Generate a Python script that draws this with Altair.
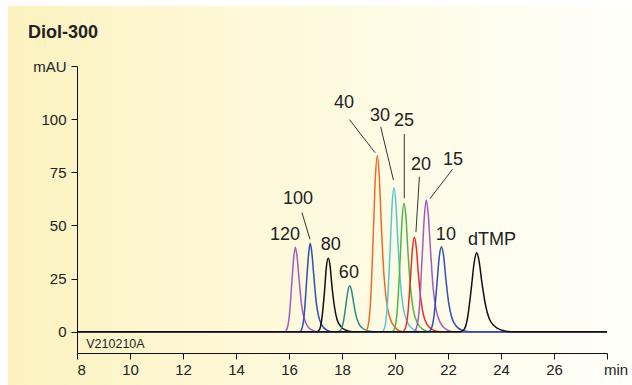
import altair as alt
import pandas as pd

# ---------------- data ----------------
series_names = ["120", "100", "80", "60", "40", "30", "25", "20", "15", "10", "dTMP"]
series_colors = ["#a35cc4", "#2b50b6", "#111111", "#2a8a85", "#f26a22",
                 "#55c6da", "#4cb848", "#ee2b2b", "#a35cc4", "#2b50b6", "#111111"]

t_120 = [15.84, 15.92, 16.01, 16.10, 16.18, 16.24, 16.30, 16.38, 16.47, 16.56, 16.69, 16.87, 17.10]
v_120 = [0, 1.2, 7.2, 21.9, 35.0, 39.8, 35.8, 24.7, 13.1, 6.8, 2.8, 0.8, 0]
t_100 = [16.40, 16.48, 16.57, 16.66, 16.74, 16.80, 16.86, 16.94, 17.03, 17.12, 17.25, 17.43, 17.66]
v_100 = [0, 1.2, 7.5, 22.9, 36.6, 41.6, 37.4, 25.8, 13.7, 7.1, 2.9, 0.8, 0]
t_80 = [17.05, 17.15, 17.24, 17.34, 17.41, 17.48, 17.55, 17.62, 17.72, 17.81, 17.96, 18.15, 18.38]
v_80 = [0, 1.0, 6.2, 19.0, 30.4, 34.6, 31.1, 21.5, 11.4, 5.9, 2.4, 0.7, 0]
t_60 = [17.84, 17.94, 18.04, 18.14, 18.22, 18.29, 18.36, 18.44, 18.54, 18.64, 18.79, 18.99, 19.24]
v_60 = [0, 0.6, 3.9, 11.9, 19.0, 21.6, 19.4, 13.4, 7.1, 3.7, 1.5, 0.4, 0]
t_40 = [18.88, 18.98, 19.08, 19.18, 19.26, 19.33, 19.40, 19.48, 19.58, 19.68, 19.83, 20.03, 20.28]
v_40 = [0, 2.5, 14.9, 45.5, 72.9, 82.8, 74.5, 51.3, 27.3, 14.1, 5.8, 1.7, 0]
t_30 = [19.51, 19.61, 19.71, 19.81, 19.89, 19.96, 20.03, 20.11, 20.21, 20.31, 20.46, 20.66, 20.91]
v_30 = [0, 2.0, 12.2, 37.2, 59.6, 67.7, 60.9, 42.0, 22.3, 11.5, 4.7, 1.4, 0]
t_25 = [19.89, 19.99, 20.09, 20.19, 20.27, 20.34, 20.41, 20.49, 20.59, 20.69, 20.84, 21.04, 21.29]
v_25 = [0, 1.8, 10.9, 33.2, 53.2, 60.4, 54.4, 37.4, 19.9, 10.3, 4.2, 1.2, 0]
t_20 = [20.28, 20.38, 20.48, 20.58, 20.66, 20.73, 20.80, 20.88, 20.98, 21.08, 21.23, 21.43, 21.68]
v_20 = [0, 1.3, 8.0, 24.5, 39.2, 44.5, 40.1, 27.6, 14.7, 7.6, 3.1, 0.9, 0]
t_15 = [20.71, 20.81, 20.92, 21.02, 21.11, 21.18, 21.25, 21.34, 21.44, 21.55, 21.71, 21.92, 22.18]
v_15 = [0, 1.9, 11.2, 34.1, 54.6, 62.0, 55.8, 38.4, 20.5, 10.5, 4.3, 1.2, 0]
t_10 = [21.25, 21.36, 21.47, 21.58, 21.67, 21.75, 21.83, 21.92, 22.03, 22.14, 22.30, 22.52, 22.80]
v_10 = [0, 1.2, 7.2, 22.0, 35.2, 40.0, 36.0, 24.8, 13.2, 6.8, 2.8, 0.8, 0]
t_dtmp = [22.47, 22.61, 22.74, 22.88, 22.99, 23.08, 23.17, 23.28, 23.42, 23.55, 23.76, 24.03, 24.36]
v_dtmp = [0, 1.1, 6.7, 20.5, 32.7, 37.2, 33.5, 23.1, 12.3, 6.3, 2.6, 0.7, 0]

run_start = 8.0
run_end = 28.0

# peak labels (text) and leader lines
label_text = ["120", "100", "80", "60", "40", "30", "25", "20", "15", "10", "dTMP"]
label_t = [15.85, 16.34, 17.58, 18.26, 18.08, 19.43, 20.34, 20.98, 22.19, 21.92, 23.66]
label_v = [45.5, 62.4, 40.8, 27.7, 107.5, 101.4, 99.0, 78.4, 80.8, 45.5, 43.2]

leader_t1 = [16.49, 18.28, 19.46, 20.35, 20.92, 22.17]
leader_v1 = [56.0, 99.8, 96.4, 93.0, 72.9, 76.4]
leader_t2 = [16.79, 19.25, 19.94, 20.35, 20.79, 21.32]
leader_v2 = [43.5, 84.2, 71.4, 62.8, 46.8, 62.6]

y_ticks = [0, 25, 50, 75, 100, 125]
x_ticks = [8, 10, 12, 14, 16, 18, 20, 22, 24, 26, 28]

# ---------------- build tables ----------------
peaks = [t_120, t_100, t_80, t_60, t_40, t_30, t_25, t_20, t_15, t_10, t_dtmp]
vals = [v_120, v_100, v_80, v_60, v_40, v_30, v_25, v_20, v_15, v_10, v_dtmp]
rows = []
for i, (name, ts, vs) in enumerate(zip(series_names, peaks, vals)):
    pts = [(run_start, 0.0)] + list(zip(ts, vs)) + [(run_end, 0.0)]
    for j, (t, v) in enumerate(pts):
        rows.append({"series": name, "order": i, "idx": j, "t": t, "v": v})
df = pd.DataFrame(rows)

labels_df = pd.DataFrame({"text": label_text, "t": label_t, "v": label_v})
leaders_df = pd.DataFrame({"t1": leader_t1, "v1": leader_v1, "t2": leader_t2, "v2": leader_v2})

FONT = "Liberation Sans"
W, H = 530, 287

x_scale = alt.Scale(domain=[8, 28], nice=False, zero=False)
y_scale = alt.Scale(domain=[-10, 125], nice=False, zero=False)

bg = alt.Chart(pd.DataFrame({"a": [0]})).mark_rect(
    color=alt.LinearGradient(
        gradient="linear",
        stops=[alt.GradientStop(color="#fcf2c0", offset=0),
               alt.GradientStop(color="#fefadf", offset=0.5),
               alt.GradientStop(color="#fffffa", offset=1)],
        x1=0, x2=1, y1=0, y2=0),
).encode(x=alt.value(-69), x2=alt.value(632 - 77), y=alt.value(-60), y2=alt.value(385 - 66))

lines = alt.Chart(df).mark_line(strokeWidth=1.5, interpolate="monotone").encode(
    x=alt.X("t:Q", scale=x_scale,
            axis=alt.Axis(values=x_ticks, title=None, grid=False, tickSize=6, labelPadding=3,
                          zindex=1, labelExpr="datum.value == 28 ? '' : datum.label")),
    y=alt.Y("v:Q", scale=y_scale,
            axis=alt.Axis(values=y_ticks, title=None, grid=False, tickSize=6, labelPadding=5,
                          zindex=1, labelExpr="datum.value == 125 ? 'mAU' : datum.label")),
    color=alt.Color("series:N", scale=alt.Scale(domain=series_names, range=series_colors), legend=None),
    detail="order:N",
    order="idx:Q",
)

leaders = alt.Chart(leaders_df).mark_rule(color="#333333", strokeWidth=1).encode(
    x=alt.X("t1:Q", scale=x_scale), y=alt.Y("v1:Q", scale=y_scale),
    x2="t2:Q", y2="v2:Q",
)

labels = alt.Chart(labels_df).mark_text(font=FONT, fontSize=18, color="#222222",
                                        baseline="middle", align="center").encode(
    x=alt.X("t:Q", scale=x_scale), y=alt.Y("v:Q", scale=y_scale), text="text:N",
)

title = alt.Chart(pd.DataFrame({"s": ["Diol-300"]})).mark_text(
    font=FONT, fontSize=18, fontWeight="bold", color="#222222", align="left", baseline="middle"
).encode(x=alt.value(-49), y=alt.value(-33), text="s:N")

min_lbl = alt.Chart(pd.DataFrame({"s": ["min"]})).mark_text(
    font=FONT, fontSize=15, color="#222222", align="center", baseline="middle"
).encode(x=alt.value(539), y=alt.value(304), text="s:N")

run_id = alt.Chart(pd.DataFrame({"s": ["V210210A"], "t": [8.35], "v": [-6.0]})).mark_text(
    font=FONT, fontSize=12.5, color="#222222", align="left", baseline="middle"
).encode(x=alt.X("t:Q", scale=x_scale), y=alt.Y("v:Q", scale=y_scale), text="s:N")

chart = alt.layer(bg, lines, leaders, labels, title, min_lbl, run_id).properties(
    width=W, height=H,
    autosize=alt.AutoSizeParams(type="none"),
    padding={"left": 77, "top": 66, "right": 25, "bottom": 32},
    background="white",
).configure_view(stroke=None).configure_axis(
    domainColor="#111111", tickColor="#111111", labelColor="#222222",
    labelFont=FONT, labelFontSize=15, domainWidth=1, tickWidth=1,
)

chart.save("out.html", embed_options={"renderer": "svg", "actions": False})
